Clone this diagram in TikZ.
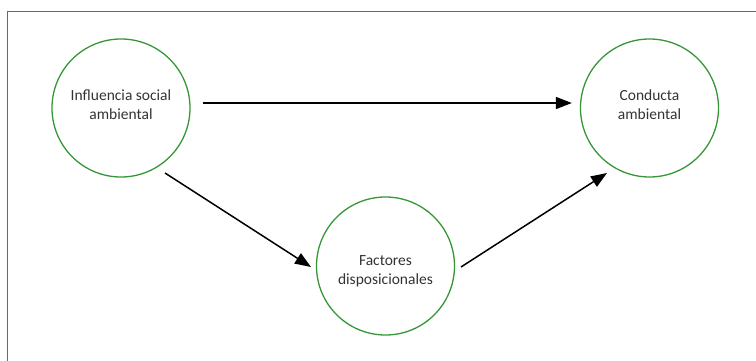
\documentclass[tikz,border=0pt]{standalone}
\usepackage{fontspec}
\setmainfont{Carlito}
\usetikzlibrary{arrows.meta}
\definecolor{framegreen}{RGB}{46,139,87}
\definecolor{circgreen}{RGB}{52,150,52}
\definecolor{txtgray}{RGB}{51,51,51}
\tikzset{
  bubble/.style={circle,draw=circgreen,line width=1.3pt,minimum size=138pt,inner sep=0pt},
  lbl/.style={align=center,inner sep=0pt,text=txtgray,font=\fontsize{15.5pt}{19pt}\selectfont},
  arr/.style={line width=1.5pt,-{Triangle[length=16pt,width=12pt]}}
}
\begin{document}
\begin{tikzpicture}[x=1pt,y=1pt]
\useasboundingbox (0,0) rectangle (756,360);
\clip (0,0) rectangle (756,360);
\draw[framegreen,line width=1.8pt] (7.5,-20) rectangle (780,348.5);
\node[bubble] (a) at (121,252) {};
\node[bubble] (b) at (649.5,252) {};
\node[bubble] (c) at (385.5,94) {};
\node[lbl] (ta) at (121,255) {Influencia social\\ambiental};
\node[lbl] (tb) at (649.5,255) {Conducta\\ambiental};
\node[lbl] (tc) at (385.5,89) {Factores\\disposicionales};
\draw[arr] ([shift={(12,5)}]a.east) -- ([shift={(-8,5)}]b.west);
\draw[arr] ([shift={(44,-65)}]a.center) -- ([shift={(-74.5,-1)}]c.center);
\draw[arr] ([shift={(75.5,-1)}]c.center) -- ([shift={(-42.5,-65)}]b.center);
\end{tikzpicture}
\end{document}
